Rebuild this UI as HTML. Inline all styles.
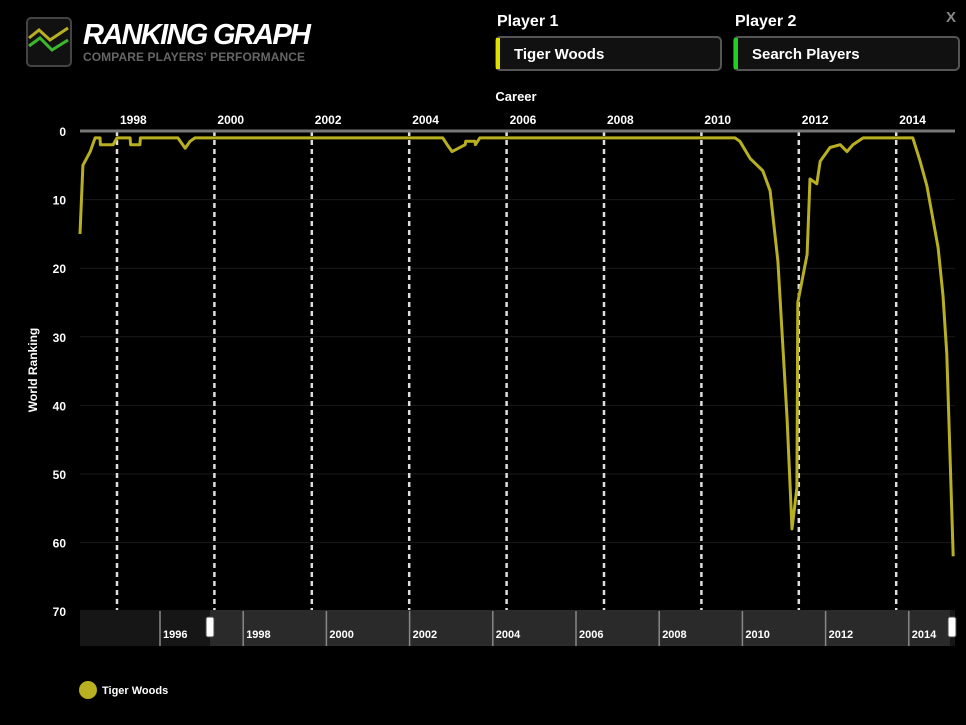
<!DOCTYPE html>
<html><head><meta charset="utf-8"><style>
body{margin:0;width:966px;height:725px;background:#000;overflow:hidden;font-family:"Liberation Sans",sans-serif;color:#fff}
svg{position:absolute;left:0;top:0}
</style></head><body>
<svg width="966" height="725">
  <g>
    <rect x="27" y="18" width="44" height="48" rx="4" fill="#111" stroke="#444" stroke-width="2"/>
    <path d="M29 38 L39 30 L50 40 L68 28" stroke="#b8b020" stroke-width="3" fill="none"/>
    <path d="M29 46 L40 38 L52 50 L68 40" stroke="#3cb82c" stroke-width="3" fill="none"/>
  </g>
  <text x="83" y="44" font-size="29" font-weight="bold" font-style="italic" fill="#fff" textLength="228">RANKING GRAPH</text>
  <text x="83" y="61" font-size="12" font-weight="bold" fill="#666" textLength="222">COMPARE PLAYERS' PERFORMANCE</text>
  <text x="497" y="26" font-size="16" font-weight="bold" fill="#fff">Player 1</text>
  <g>
    <rect x="496" y="37" width="225" height="33" rx="4" fill="#111" stroke="#555" stroke-width="2"/>
    <rect x="496" y="38" width="4" height="31" fill="#e0e000"/>
    <text x="514" y="59" font-size="15" font-weight="bold" fill="#fff">Tiger Woods</text>
  </g>
  <text x="735" y="26" font-size="16" font-weight="bold" fill="#fff">Player 2</text>
  <g>
    <rect x="734" y="37" width="225" height="33" rx="4" fill="#111" stroke="#555" stroke-width="2"/>
    <rect x="734" y="38" width="4" height="31" fill="#20d020"/>
    <text x="752" y="59" font-size="15" font-weight="bold" fill="#fff">Search Players</text>
  </g>
  <text x="946" y="22" font-size="15" font-weight="bold" fill="#888">X</text>
  <text x="516" y="101" font-size="13" font-weight="bold" fill="#fff" text-anchor="middle">Career</text>
  <text transform="translate(37,370) rotate(-90)" font-size="12" font-weight="bold" fill="#fff" text-anchor="middle">World Ranking</text>
  <g id="grid"></g>
  <g id="series"></g>
  <g id="nav"></g>
  <g>
    <circle cx="88" cy="690" r="9" fill="#b8b020"/>
    <text x="102" y="694" font-size="11" font-weight="bold" fill="#fff">Tiger Woods</text>
  </g>
</svg>
<script>
const yearTicks=[1998,2000,2002,2004,2006,2008,2010,2012,2014];
const rankTicks=[0,10,20,30,40,50,60,70];
const navYears=[1996,1998,2000,2002,2004,2006,2008,2010,2012,2014];
const years=[1997.24,1997.30,1997.45,1997.55,1997.65,1997.66,1997.92,1998.0,1998.27,1998.28,1998.47,1998.48,1999.25,1999.4,1999.5,1999.6,2004.69,2004.78,2004.88,2005.15,2005.16,2005.35,2005.36,2005.45,2010.69,2010.79,2011.0,2011.26,2011.41,2011.57,2011.76,2011.86,2011.96,2011.98,2012.17,2012.23,2012.37,2012.44,2012.64,2012.85,2012.99,2013.11,2013.32,2014.34,2014.49,2014.63,2014.86,2014.96,2015.04,2015.17];
const ranks=[15,5,3,1,1,2,2,1,1,2,2,1,1,2.5,1.5,1,1,2,3,2,1.5,1.5,2,1,1,1.5,4,5.8,8.7,19,42,58,52,25,18,7,7.7,4.4,2.4,2,3,2,1,1,4.4,8,17,24,32.5,62];
const NS='http://www.w3.org/2000/svg';
const X0=117,PX_PER_YEAR=48.7,Y0=131,PX_PER_RANK=6.86;
const xs=y=>X0+(y-1998)*PX_PER_YEAR;
const ys=r=>Y0+r*PX_PER_RANK;
function mk(tag,attrs,parent){const e=document.createElementNS(NS,tag);for(const k in attrs)e.setAttribute(k,attrs[k]);parent.appendChild(e);return e;}
const grid=document.getElementById('grid');
rankTicks.forEach(r=>{
  if(r>0&&r<70){const l=mk('line',{x1:80,x2:955,y1:ys(r),y2:ys(r),stroke:'#1a1a1a','stroke-width':1},grid);
  
  }
  const t=mk('text',{x:66,y:ys(r)+5,'font-size':12,'font-weight':'bold',fill:'#fff','text-anchor':'end'},grid);
  t.textContent=r;
  
  
});
yearTicks.forEach(y=>{
  const l=mk('line',{x1:xs(y),x2:xs(y),y1:Y0,y2:610,stroke:'#ddd','stroke-width':2.5,'stroke-dasharray':'5,4'},grid);
  
  
  const t=mk('text',{x:xs(y)+3,y:124,'font-size':12,'font-weight':'bold',fill:'#fff'},grid);
  t.textContent=y;
  
  
});
const ax=mk('line',{x1:80,x2:955,y1:Y0,y2:Y0,stroke:'#777','stroke-width':3},grid);


const series=document.getElementById('series');
const p=mk('polyline',{points:years.map((y,i)=>xs(y).toFixed(1)+','+ys(ranks[i]).toFixed(1)).join(' '),fill:'none',stroke:'#b8b020','stroke-width':3,'stroke-linejoin':'round'},series);


const nav=document.getElementById('nav');
const bg=mk('rect',{x:80,y:610,width:875,height:36,fill:'#161616'},nav);


const sel=mk('rect',{x:210,y:610,width:740,height:36,fill:'#2a2a2a'},nav);


const NX0=160,NSTEP=83.2;
navYears.forEach((y,i)=>{
  const x=NX0+i*NSTEP;
  const l=mk('line',{x1:x,x2:x,y1:611,y2:646,stroke:'#888','stroke-width':1.5},nav);
  
  
  const t=mk('text',{x:x+3,y:638,'font-size':11,'font-weight':'bold',fill:'#fff'},nav);
  t.textContent=y;
  
  
});
[210,952].forEach(x=>{
  const h=mk('rect',{x:x-4,y:617,width:8,height:20,rx:2,fill:'#fff',stroke:'#444'},nav);
  
  
});
</script>
</body></html>
